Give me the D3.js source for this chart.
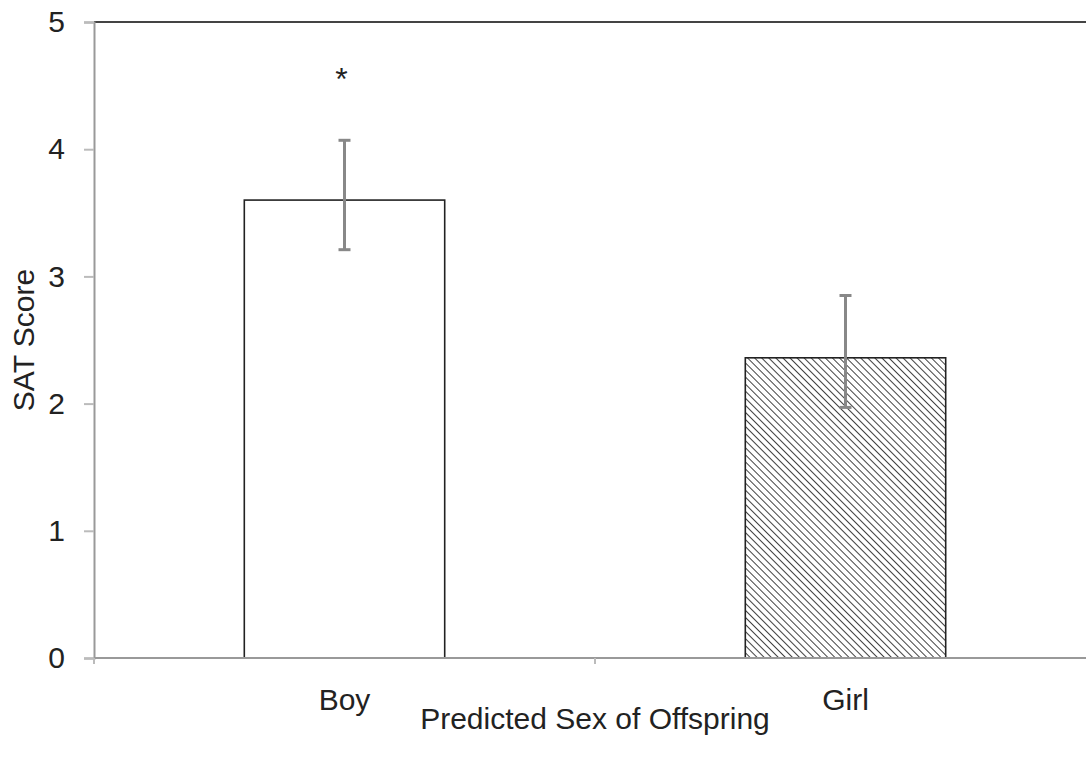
<!DOCTYPE html>
<html>
<head>
<meta charset="utf-8">
<script src="https://cdn.jsdelivr.net/npm/d3@7"></script>
<style>
  body { margin: 0; background: #fff; }
  svg text { font-family: "Liberation Sans", Arial, sans-serif; fill: #222; }
</style>
</head>
<body>
<div id="chart"></div>
<script>
// data
var categories = ["Boy", "Girl"];
var means = [3.6, 2.36];
var errLow = [3.21, 1.97];
var errHigh = [4.07, 2.85];
var marks = ["*", ""];
var yTicks = [0, 1, 2, 3, 4, 5];

var width = 1086, height = 759;
var plotLeft = 94, plotRight = 1096, plotTop = 22, plotBottom = 658;
var fontSize = "30px";

var svg = d3.select("#chart").append("svg")
    .attr("width", width)
    .attr("height", height);

// hatch pattern for the girl bar
var defs = svg.append("defs");
defs.append("pattern")
    .attr("id", "hatch")
    .attr("patternUnits", "userSpaceOnUse")
    .attr("width", 5)
    .attr("height", 5)
    .attr("patternTransform", "rotate(-45)")
    .append("line")
    .attr("x1", 0).attr("y1", 0)
    .attr("x2", 0).attr("y2", 5)
    .attr("stroke", "#111")
    .attr("stroke-width", 1.6);

var x = d3.scaleBand()
    .domain(categories)
    .range([plotLeft, plotRight])
    .paddingInner(0.6)
    .paddingOuter(0.3);

var xOuter = d3.scaleBand()
    .domain(categories)
    .range([plotLeft, plotRight]);

var y = d3.scaleLinear()
    .domain([0, 5])
    .range([plotBottom, plotTop]);

// top frame line
svg.append("line")
    .attr("x1", plotLeft).attr("x2", width)
    .attr("y1", y(5)).attr("y2", y(5))
    .attr("stroke", "#444")
    .attr("stroke-width", 2);

// y axis
var yAxis = d3.axisLeft(y).tickValues(yTicks).tickFormat(d3.format("d"))
    .tickSize(10).tickPadding(19);
var gY = svg.append("g")
    .attr("transform", "translate(" + plotLeft + ",0)")
    .call(yAxis);
gY.select(".domain").attr("stroke", "#999").attr("stroke-width", 2);
gY.selectAll(".tick line").attr("stroke", "#bbb").attr("stroke-width", 2);
gY.selectAll(".tick text").style("font-size", fontSize).attr("fill", "#222");

// bars
var fills = ["#fff", "url(#hatch)"];
svg.selectAll(".bar")
    .data(categories)
    .enter()
    .append("rect")
    .attr("class", "bar")
    .attr("x", function (d) { return x(d); })
    .attr("width", x.bandwidth())
    .attr("y", function (d, i) { return y(means[i]); })
    .attr("height", function (d, i) { return y(0) - y(means[i]); })
    .attr("fill", function (d, i) { return fills[i]; })
    .attr("stroke", "#222")
    .attr("stroke-width", 1.6);

// x axis
svg.append("line")
    .attr("x1", plotLeft).attr("x2", width)
    .attr("y1", plotBottom).attr("y2", plotBottom)
    .attr("stroke", "#999")
    .attr("stroke-width", 2);

var tickPos = categories.map(function (d) { return xOuter(d); });
tickPos.push(xOuter(categories[categories.length - 1]) + xOuter.bandwidth());
svg.selectAll(".xtick")
    .data(tickPos)
    .enter()
    .append("line")
    .attr("x1", function (d) { return d; })
    .attr("x2", function (d) { return d; })
    .attr("y1", plotBottom)
    .attr("y2", plotBottom + 6)
    .attr("stroke", "#bbb")
    .attr("stroke-width", 2);

svg.selectAll(".xlabel")
    .data(categories)
    .enter()
    .append("text")
    .attr("x", function (d) { return x(d) + x.bandwidth() / 2; })
    .attr("y", plotBottom + 52)
    .attr("text-anchor", "middle")
    .style("font-size", fontSize)
    .text(function (d) { return d; });

// error bars
var cx = function (d) { return x(d) + x.bandwidth() / 2; };
var eb = svg.selectAll(".err")
    .data(categories)
    .enter()
    .append("g")
    .attr("stroke", "#888")
    .attr("stroke-width", 3);
eb.append("line")
    .attr("x1", cx).attr("x2", cx)
    .attr("y1", function (d, i) { return y(errLow[i]); })
    .attr("y2", function (d, i) { return y(errHigh[i]); });
eb.append("line")
    .attr("x1", function (d) { return cx(d) - 6; })
    .attr("x2", function (d) { return cx(d) + 6; })
    .attr("y1", function (d, i) { return y(errLow[i]); })
    .attr("y2", function (d, i) { return y(errLow[i]); });
eb.append("line")
    .attr("x1", function (d) { return cx(d) - 6; })
    .attr("x2", function (d) { return cx(d) + 6; })
    .attr("y1", function (d, i) { return y(errHigh[i]); })
    .attr("y2", function (d, i) { return y(errHigh[i]); });

// significance mark
svg.selectAll(".mark")
    .data(categories)
    .enter()
    .append("text")
    .attr("x", function (d) { return cx(d) - 3; })
    .attr("y", function (d, i) { return y(errHigh[i]) - 50; })
    .attr("text-anchor", "middle")
    .style("font-size", "32px")
    .text(function (d, i) { return marks[i]; });

// axis titles
svg.append("text")
    .attr("transform", "translate(34," + ((plotTop + plotBottom) / 2) + ") rotate(-90)")
    .attr("text-anchor", "middle")
    .style("font-size", fontSize)
    .text("SAT Score");

svg.append("text")
    .attr("x", (plotLeft + plotRight) / 2)
    .attr("y", 729)
    .attr("text-anchor", "middle")
    .style("font-size", fontSize)
    .text("Predicted Sex of Offspring");
</script>
</body>
</html>
